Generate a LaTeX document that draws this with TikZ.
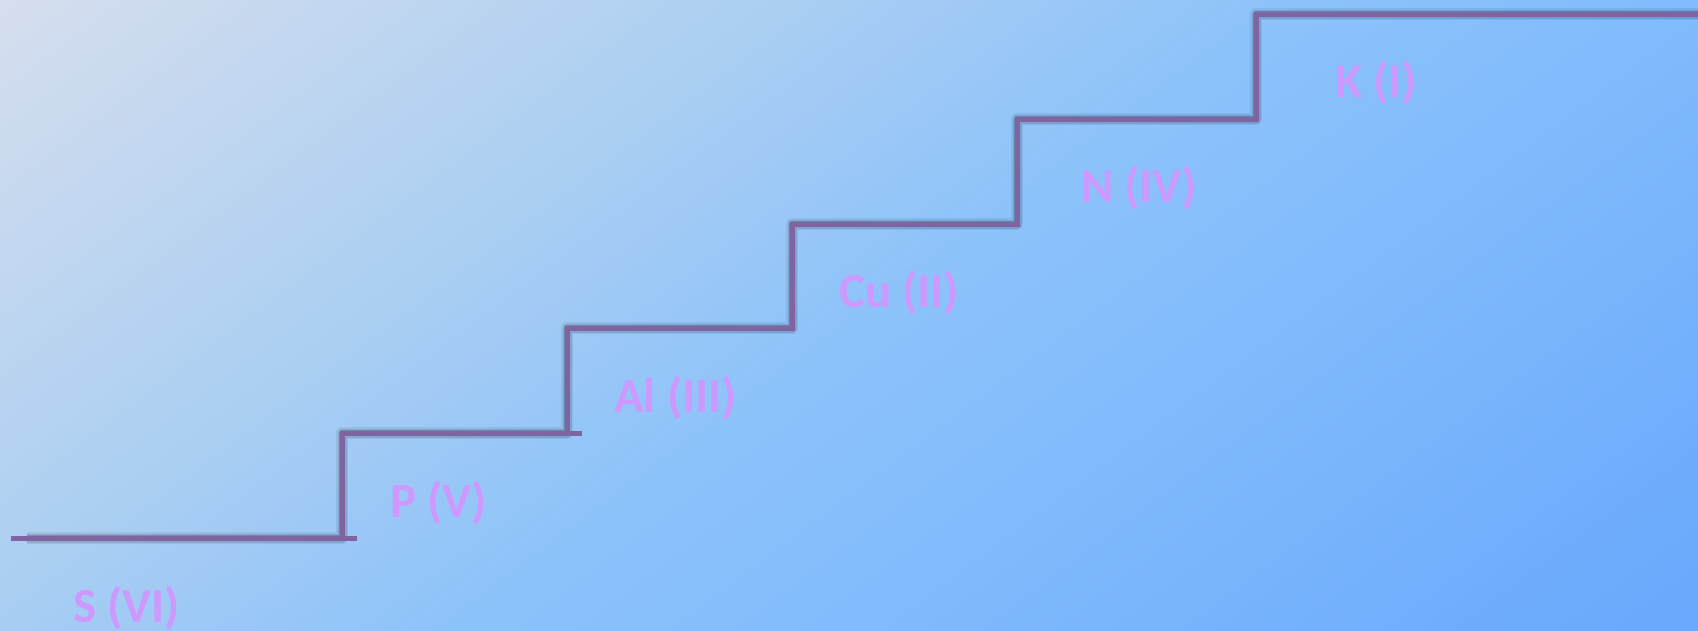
\documentclass[tikz,border=0pt]{standalone}
\usepackage{fontspec}
\setmainfont{Carlito}
\definecolor{bgA}{RGB}{214,222,238}
\definecolor{bgB}{RGB}{170,206,242}
\definecolor{bgC}{RGB}{142,195,250}
\definecolor{bgD}{RGB}{130,188,252}
\definecolor{bgE}{RGB}{104,167,252}
\definecolor{stair}{RGB}{128,100,162}
\definecolor{ionlabel}{RGB}{206,153,252}
\tikzset{
  stairline/.style={draw=stair, line width=5pt, line join=miter, line cap=rect},
  stairshadow/.style={draw=black, line join=round},
  ion/.style={text=ionlabel, font=\fontsize{49}{58}\selectfont\bfseries, inner sep=0pt, anchor=base west}
}
\begin{document}
\begin{tikzpicture}[x=1pt,y=-1pt]
  \useasboundingbox (0,0) rectangle (1698,630);
  \begin{scope}
    \clip (0,0) rectangle (1698,630);
    \fill[bgA] (0,0) rectangle (1698,630);
    % diagonal colour bands running from the upper-left corner to the lower-right one
    \foreach \da/\db/\ca/\cb in {0/480/bgA/bgB, 480/760/bgB/bgC, 760/1000/bgC/bgD, 1000/1530/bgD/bgE} {
      \pgfmathtruncatemacro\n{(\db-\da)/6}
      \foreach \k in {0,...,\n} {
        \pgfmathsetmacro\d{\da+(\k/\n)*(\db-\da)}
        \pgfmathtruncatemacro\p{100-100*\k/\n}
        \fill[\ca!\p!\cb]
          ({0.6*\d+1120},{0.8*\d-840}) -- ({0.6*(\d+9)+1120},{0.8*(\d+9)-840})
          -- ({0.6*(\d+9)-320},{0.8*(\d+9)+240}) -- ({0.6*\d-320},{0.8*\d+240}) -- cycle;
      }
    }
  \end{scope}

  % staircase corners
  \coordinate (s0) at (13,538);
  \coordinate (s1) at (342,538);
  \coordinate (s2) at (342,433);
  \coordinate (s3) at (567,433);
  \coordinate (s4) at (567,328);
  \coordinate (s5) at (792,328);
  \coordinate (s6) at (792,224);
  \coordinate (s7) at (1017,224);
  \coordinate (s8) at (1017,119);
  \coordinate (s9) at (1256,119);
  \coordinate (s10) at (1256,14);
  \coordinate (s11) at (1700,14);
  \coordinate (e1) at (357,538);
  \coordinate (e2) at (582,433);
  \coordinate (t0) at (27,538);

  % soft shadow under the steps
  \begin{scope}[shift={(2,4)}]
    \foreach \w/\o in {12/0.07, 9/0.10, 6/0.16} {
      \draw[stairshadow, line width=\w pt, opacity=\o]
        (t0) -- (s1) -- (s2) -- (s3) -- (s4) -- (s5) -- (s6) -- (s7) -- (s8) -- (s9) -- (s10) -- (s11);
    }
  \end{scope}

  % the steps
  \draw[stairline] (s0) -- (s1) -- (s2) -- (s3) -- (s4) -- (s5) -- (s6) -- (s7) -- (s8) -- (s9) -- (s10) -- (s11);
  \draw[stairline, line cap=butt] (s1) -- (e1);
  \draw[stairline, line cap=butt] (s3) -- (e2);

  % oxidation-state labels
  \node[ion] (labelS)  at (73,622)   {S (VI)};
  \node[ion] (labelP)  at (390,517)  {P (V)};
  \node[ion] (labelAl) at (614,412)  {Al (III)};
  \node[ion] (labelCu) at (839,307)  {Cu (II)};
  \node[ion] (labelN)  at (1081,202) {N (IV)};
  \node[ion] (labelK)  at (1335,97)  {K (I)};
\end{tikzpicture}
\end{document}
